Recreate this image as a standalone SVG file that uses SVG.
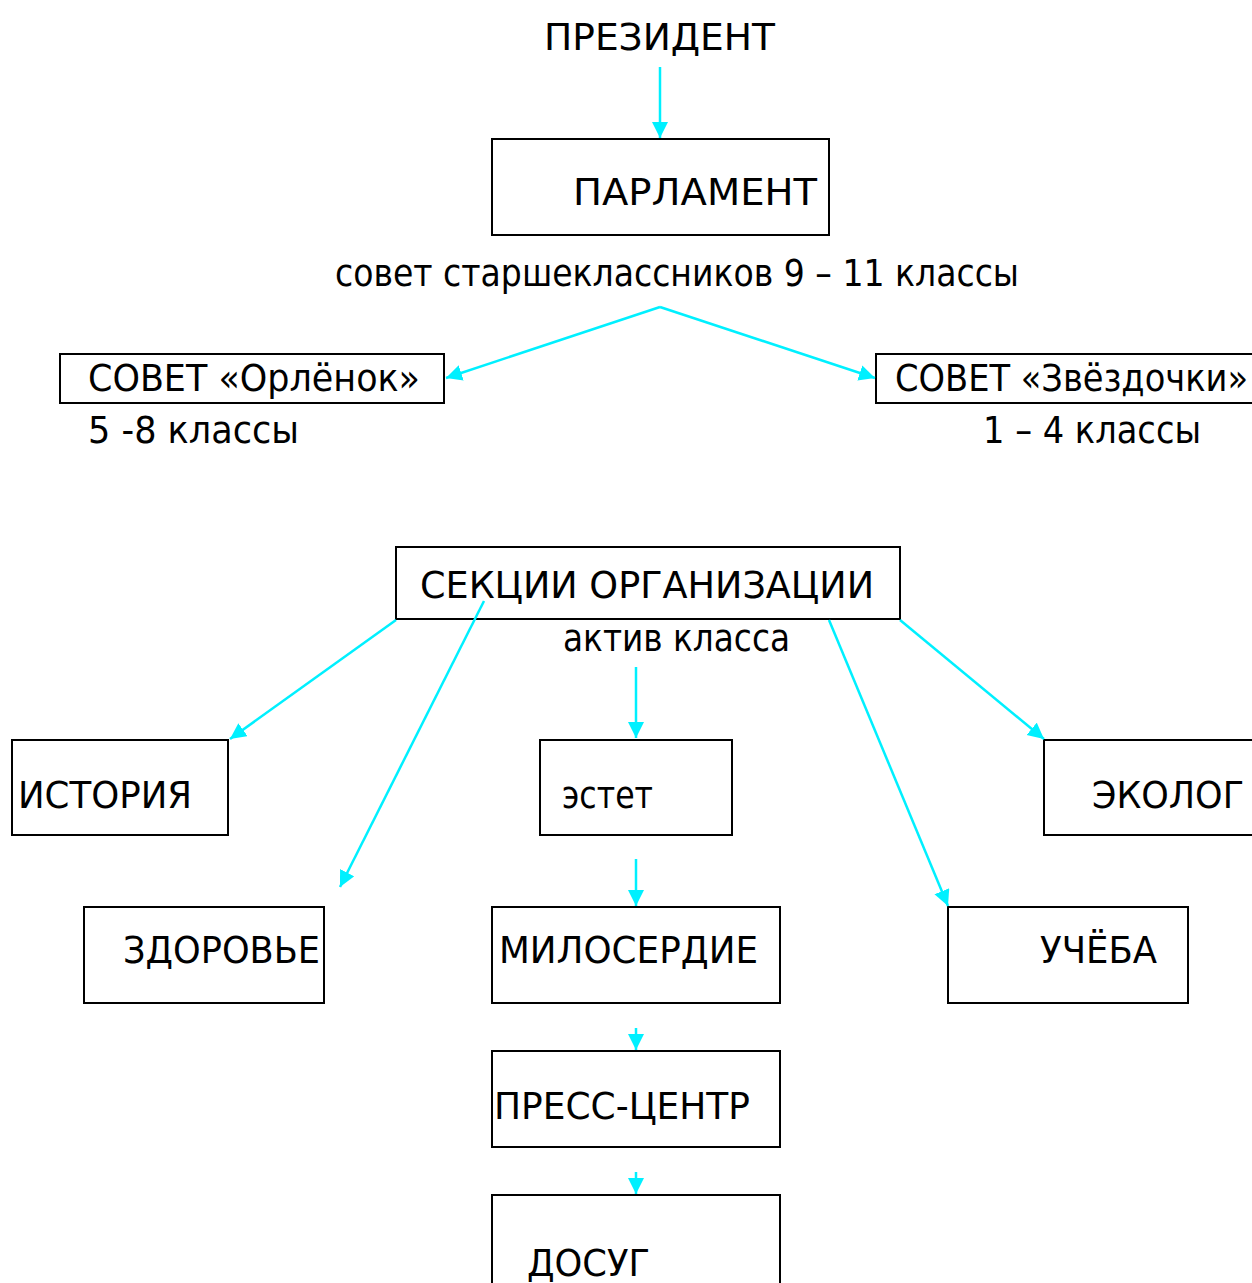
<svg xmlns="http://www.w3.org/2000/svg" width="1252" height="1283" viewBox="0 0 1252 1283">
<style>
.box{fill:#fff;stroke:#000;stroke-width:2}
text{font-family:"DejaVu Sans","Liberation Sans",sans-serif;font-size:38px;fill:#000}
.c{stroke:#00F0FF;stroke-width:2.5;fill:none}
</style>
<defs>
<marker id="ah" markerUnits="userSpaceOnUse" markerWidth="18" markerHeight="18" refX="16" refY="8" orient="auto">
<path d="M0,0 L16,8 L0,16 Z" fill="#00F0FF"/>
</marker>
</defs>
<rect width="1252" height="1283" fill="#fff"/>
<g id="president"><text x="544" y="50" textLength="231" lengthAdjust="spacingAndGlyphs">ПРЕЗИДЕНТ</text></g>
<g id="parliament"><rect class="box" x="492" y="139" width="337" height="96"/><text x="573" y="205" textLength="244" lengthAdjust="spacingAndGlyphs">ПАРЛАМЕНТ</text></g>
<g id="council-label"><text x="335" y="286" textLength="684" lengthAdjust="spacingAndGlyphs">совет старшеклассников 9 – 11 классы</text></g>
<g id="orlenok"><rect class="box" x="60" y="354" width="384" height="49"/><text x="88" y="391" textLength="332" lengthAdjust="spacingAndGlyphs">СОВЕТ «Орлёнок»</text></g>
<g id="orlenok-label"><text x="88" y="443" textLength="211" lengthAdjust="spacingAndGlyphs">5 -8 классы</text></g>
<g id="zvezdochki"><rect class="box" x="876" y="354" width="390" height="49"/><text x="895" y="391" textLength="353" lengthAdjust="spacingAndGlyphs">СОВЕТ «Звёздочки»</text></g>
<g id="zvezdochki-label"><text x="983" y="443" textLength="218" lengthAdjust="spacingAndGlyphs">1 – 4 классы</text></g>
<g id="sections"><rect class="box" x="396" y="547" width="504" height="72"/><text x="420" y="598" textLength="454" lengthAdjust="spacingAndGlyphs">СЕКЦИИ ОРГАНИЗАЦИИ</text></g>
<g id="aktiv-label"><text x="563" y="651" textLength="227" lengthAdjust="spacingAndGlyphs">актив класса</text></g>
<g id="istoriya"><rect class="box" x="12" y="740" width="216" height="95"/><text x="18" y="808" textLength="174" lengthAdjust="spacingAndGlyphs">ИСТОРИЯ</text></g>
<g id="estet"><rect class="box" x="540" y="740" width="192" height="95"/><text x="562" y="808" textLength="91" lengthAdjust="spacingAndGlyphs">эстет</text></g>
<g id="ekolog"><rect class="box" x="1044" y="740" width="220" height="95"/><text x="1092" y="808" textLength="152" lengthAdjust="spacingAndGlyphs">ЭКОЛОГ</text></g>
<g id="zdorovie"><rect class="box" x="84" y="907" width="240" height="96"/><text x="123" y="963" textLength="197" lengthAdjust="spacingAndGlyphs">ЗДОРОВЬЕ</text></g>
<g id="miloserdie"><rect class="box" x="492" y="907" width="288" height="96"/><text x="499" y="963" textLength="259" lengthAdjust="spacingAndGlyphs">МИЛОСЕРДИЕ</text></g>
<g id="ucheba"><rect class="box" x="948" y="907" width="240" height="96"/><text x="1040" y="963" textLength="117" lengthAdjust="spacingAndGlyphs">УЧЁБА</text></g>
<g id="press"><rect class="box" x="492" y="1051" width="288" height="96"/><text x="494" y="1119" textLength="256" lengthAdjust="spacingAndGlyphs">ПРЕСС-ЦЕНТР</text></g>
<g id="dosug"><rect class="box" x="492" y="1195" width="288" height="100"/><text x="527" y="1276" textLength="123" lengthAdjust="spacingAndGlyphs">ДОСУГ</text></g>
<g id="connectors">
<line class="c" x1="660" y1="67" x2="660" y2="138" marker-end="url(#ah)"/>
<line class="c" x1="660" y1="307" x2="446" y2="378" marker-end="url(#ah)"/>
<line class="c" x1="660" y1="307" x2="875" y2="378" marker-end="url(#ah)"/>
<line class="c" x1="636" y1="667" x2="636" y2="738" marker-end="url(#ah)"/>
<line class="c" x1="396" y1="620" x2="230" y2="739" marker-end="url(#ah)"/>
<line class="c" x1="484" y1="601" x2="340" y2="887" marker-end="url(#ah)"/>
<line class="c" x1="829" y1="620" x2="948" y2="906" marker-end="url(#ah)"/>
<line class="c" x1="900" y1="620" x2="1044" y2="739" marker-end="url(#ah)"/>
<line class="c" x1="636" y1="859" x2="636" y2="906" marker-end="url(#ah)"/>
<line class="c" x1="636" y1="1028" x2="636" y2="1050" marker-end="url(#ah)"/>
<line class="c" x1="636" y1="1172" x2="636" y2="1194" marker-end="url(#ah)"/>
</g>
</svg>
